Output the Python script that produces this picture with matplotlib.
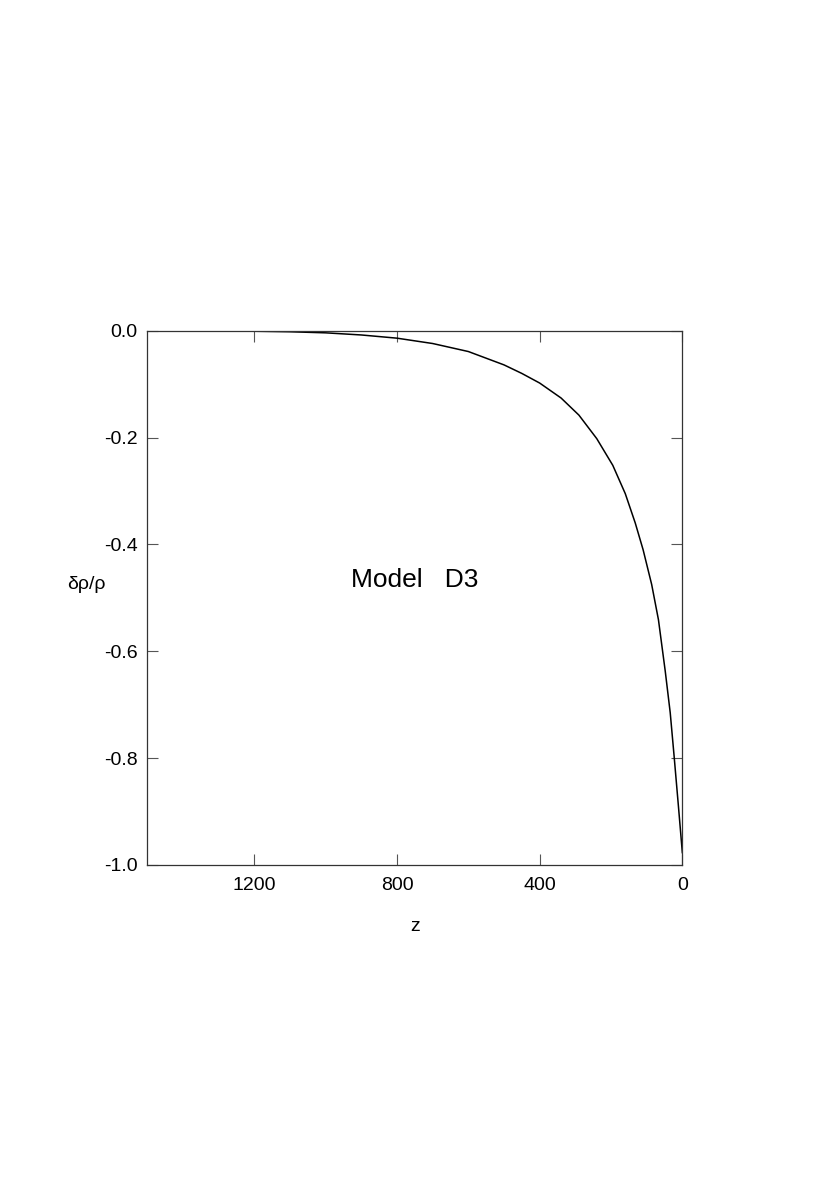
import numpy as np
import matplotlib
matplotlib.use("Agg")
import matplotlib.pyplot as plt

plt.rcParams['font.family'] = ['Liberation Sans', 'DejaVu Sans']
plt.rcParams['axes.unicode_minus'] = False

# depth z and density perturbation
z = [1500, 1400, 1300, 1200, 1100, 1000, 900, 850, 800, 700, 600, 500,
     450, 400, 340, 290, 240, 195, 160, 132, 110, 86, 67, 48, 34, 23, 11,
     0]
drho = [0.0, 0.0, -0.0005, -0.001, -0.002, -0.004, -0.008, -0.011, -0.014,
        -0.024, -0.039, -0.064, -0.080, -0.098, -0.126, -0.158, -0.202,
        -0.252, -0.305, -0.360, -0.410, -0.475, -0.541, -0.637, -0.715,
        -0.797, -0.890, -0.977]

xticks = [1200, 800, 400, 0]
yticks = [0.0, -0.2, -0.4, -0.6, -0.8, -1.0]

fig = plt.figure(figsize=(8.3, 11.96), dpi=100)
ax = fig.add_axes([0.1775, 0.2768, 0.6446, 0.4467])

ax.plot(z, drho, color='black', lw=1.1)

ax.set_xlim(1500, 0)
ax.set_ylim(-1.0, 0.0)
ax.set_xticks(xticks)
ax.set_xticklabels([str(t) for t in xticks])
ax.set_yticks(yticks)
ax.set_yticklabels(['%.1f' % t for t in yticks])

ax.tick_params(direction='in', length=8, width=0.8, color='#555555',
               top=True, right=True, labelsize=14)
ax.tick_params(axis='x', pad=9)
ax.tick_params(axis='y', pad=7)
for s in ax.spines.values():
    s.set_color('#333333')
    s.set_linewidth(0.9)

ax.set_xlabel('z', fontsize=14, labelpad=17)
ax.text(-0.113, 0.525, 'δρ/ρ', transform=ax.transAxes, fontsize=14,
        ha='center', va='center')
ax.text(750, -0.466, 'Model   D3', fontsize=19, ha='center', va='center')

fig.savefig('out.png', dpi=100)
